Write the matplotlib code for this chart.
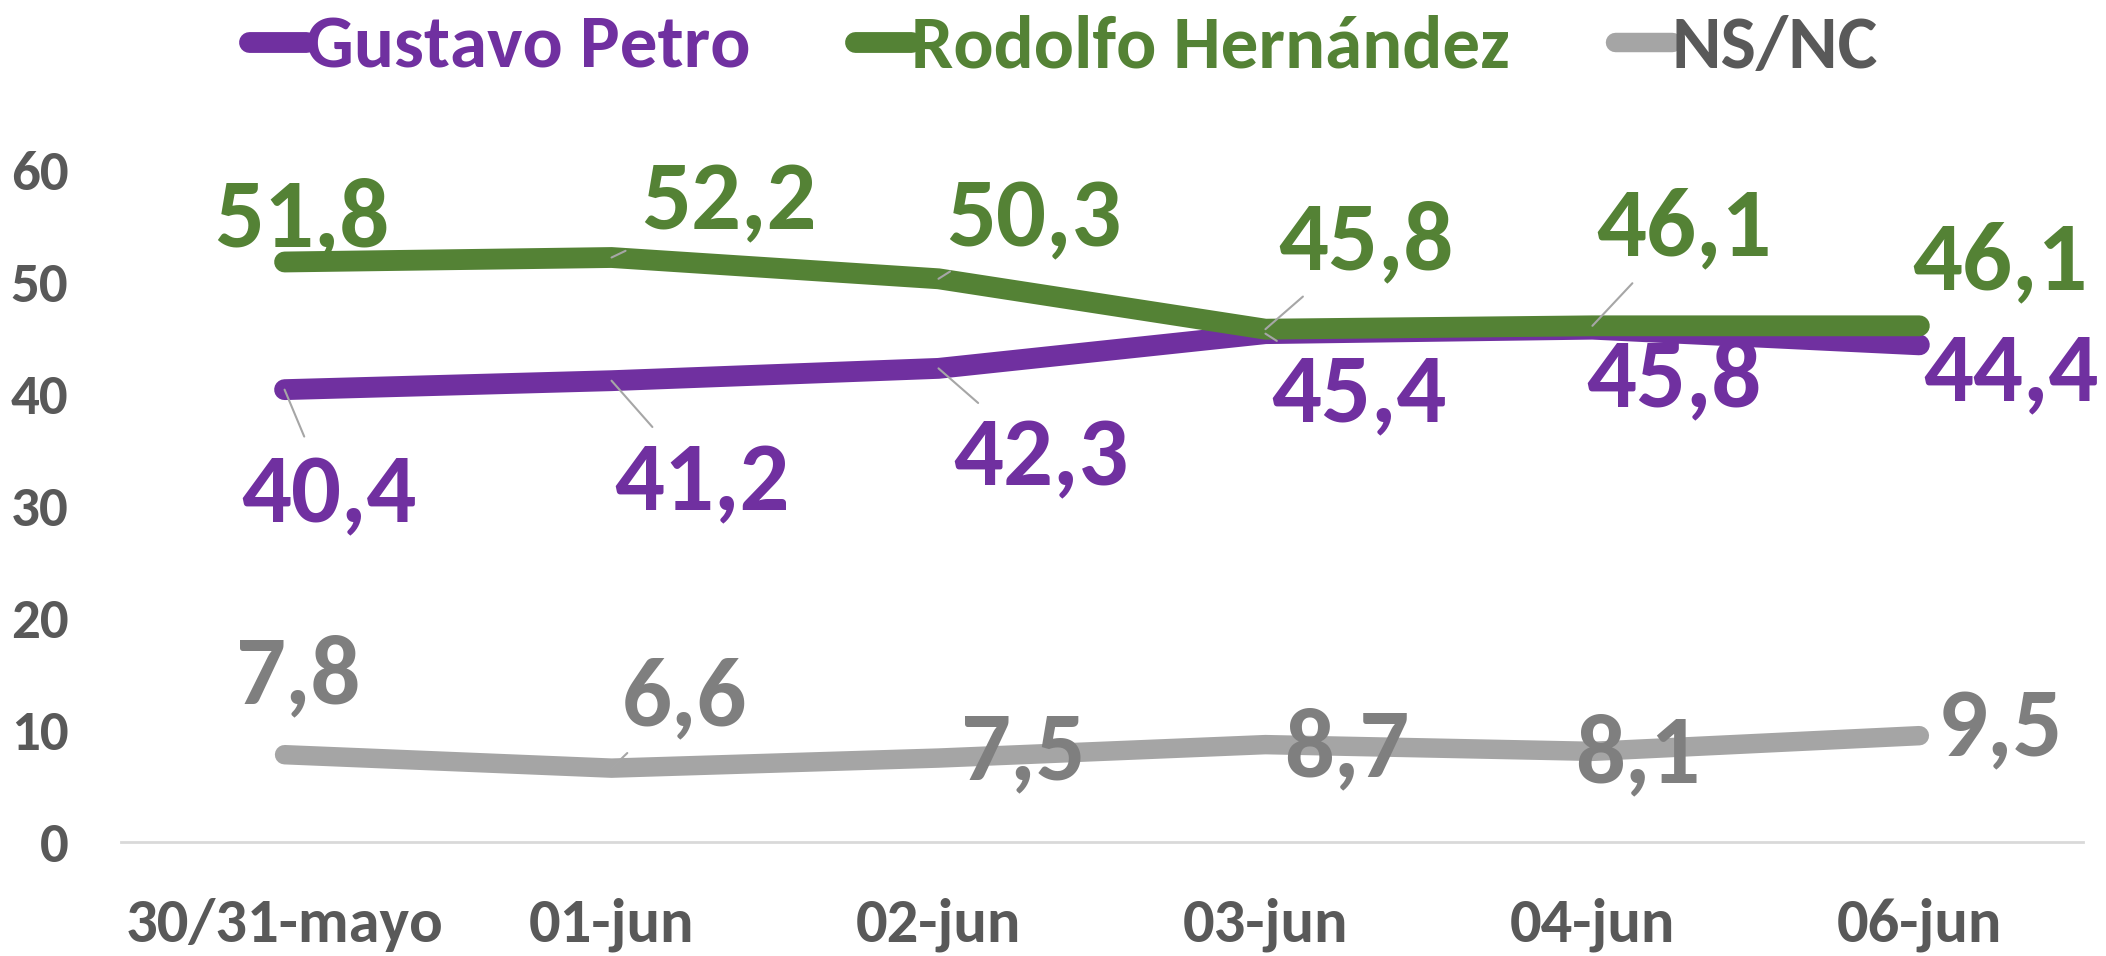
import matplotlib
matplotlib.use("Agg")
import matplotlib.pyplot as plt

plt.rcParams['font.family'] = ['Carlito', 'Liberation Sans Narrow', 'DejaVu Sans']
plt.rcParams['font.weight'] = 'bold'

fechas = ["30/31-mayo", "01-jun", "02-jun", "03-jun", "04-jun", "06-jun"]
petro = [40.4, 41.2, 42.3, 45.4, 45.8, 44.4]
hernandez = [51.8, 52.2, 50.3, 45.8, 46.1, 46.1]
nsnc = [7.8, 6.6, 7.5, 8.7, 8.1, 9.5]

PURPLE = "#7030A0"
GREEN = "#548235"
GRAY_LINE = "#A5A5A5"
GRAY_TEXT = "#7F7F7F"
DARK = "#595959"

# label offsets in pixels from each point, and whether a leader line is drawn
off_hernandez = [(17, 43), (117, 56), (95, 60), (100, 87), (92, 98), (81, 64)]
lead_hernandez = [False, True, True, True, True, False]
off_petro = [(44, -105), (90, -102), (102, -89), (94, -60), (82, -50), (92, -28)]
lead_petro = [True, True, True, True, False, False]
off_nsnc = [(13, 79), (73, 70), (84, 6), (81, -4), (45, -4), (81, 7)]
lead_nsnc = [False, True, False, False, False, False]

fig = plt.figure(figsize=(21.06, 9.56), dpi=100)
ax = fig.add_axes([0.0575, 0.1192, 0.9315, 0.7028])

x = [i + 0.5 for i in range(len(fechas))]

series = [
    ("Gustavo Petro", petro, PURPLE, PURPLE, off_petro, lead_petro, 15),
    ("Rodolfo Hernández", hernandez, GREEN, GREEN, off_hernandez, lead_hernandez, 15),
    ("NS/NC", nsnc, GRAY_LINE, GRAY_TEXT, off_nsnc, lead_nsnc, 14),
]

handles = []
for name, vals, lc, tc, offs, leads, lw in series:
    h, = ax.plot(x, vals, color=lc, lw=lw, solid_capstyle='round',
                 solid_joinstyle='miter', label=name, zorder=3)
    handles.append(h)
    for xi, v, (dx, dy), lead in zip(x, vals, offs, leads):
        txt = f"{v:.1f}".replace(".", ",")
        arrow = None
        if lead:
            arrow = dict(arrowstyle='-', color='#A6A6A6', lw=1.5,
                         shrinkA=10, shrinkB=0)
        ax.annotate(txt, xy=(xi, v), xytext=(dx, dy), textcoords='offset pixels',
                    ha='center', va='center', fontsize=71, fontweight='bold',
                    color=tc, arrowprops=arrow, zorder=4)

ax.set_xlim(0, 6)
ax.set_ylim(0, 60)
ax.set_xticks(x)
ax.set_xticklabels(fechas)
ax.set_yticks(range(0, 61, 10))
ax.tick_params(axis='both', length=0, labelcolor=DARK)
ax.tick_params(axis='x', labelsize=45, pad=40)
ax.tick_params(axis='y', labelsize=41, pad=38)
for s in ['top', 'right', 'left']:
    ax.spines[s].set_visible(False)
ax.spines['bottom'].set_color('#D9D9D9')
ax.spines['bottom'].set_linewidth(2)

leg = fig.legend(handles=handles, loc='upper center', bbox_to_anchor=(0.505, 1.055),
                 ncol=3, frameon=False, fontsize=54, handlelength=0.75,
                 handletextpad=0.0, columnspacing=1.4)
for t, (_, _, _, tc, _, _, _) in zip(leg.get_texts(), series):
    t.set_color(tc if tc != GRAY_TEXT else DARK)

fig.savefig("out.png", dpi=100)
